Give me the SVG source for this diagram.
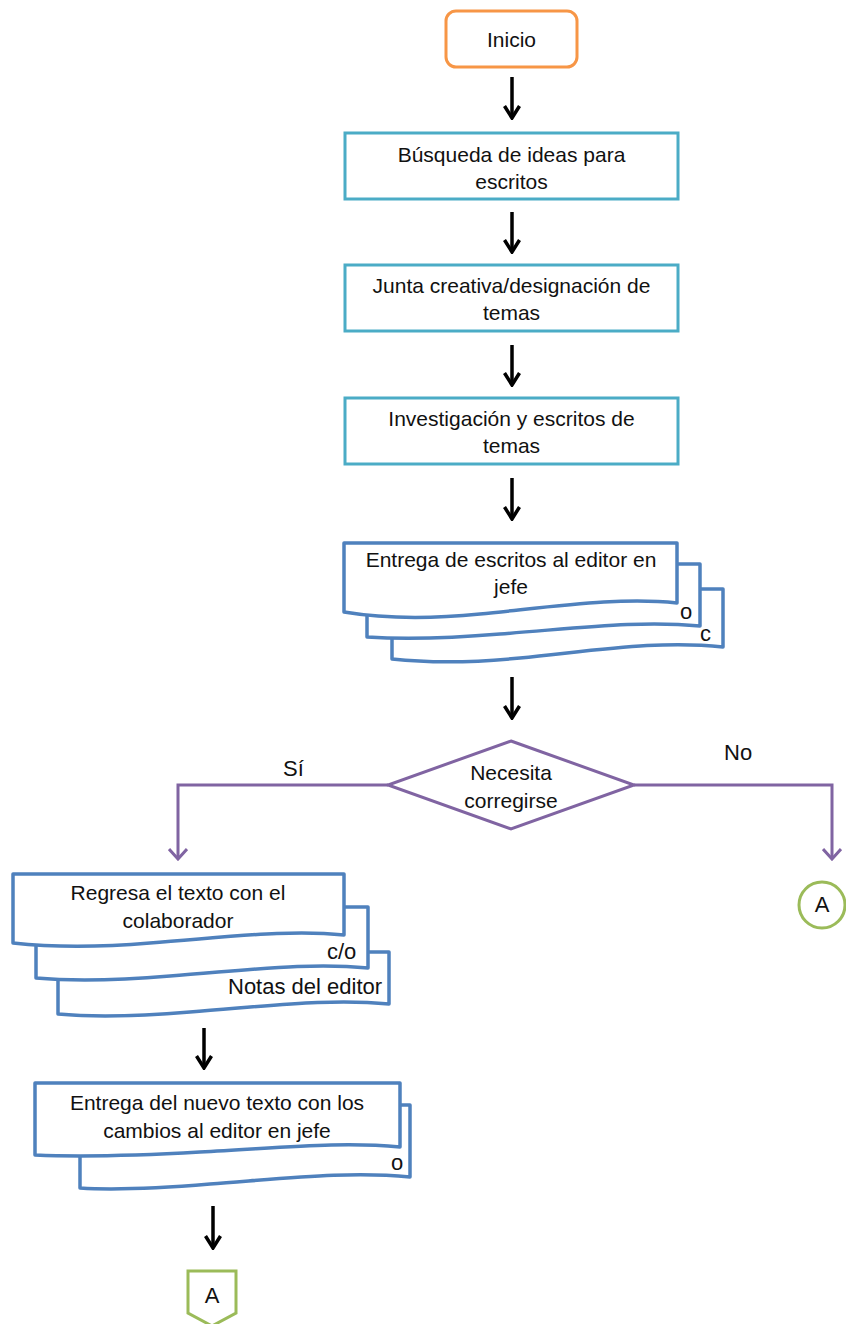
<svg xmlns="http://www.w3.org/2000/svg" width="846" height="1324" viewBox="0 0 846 1324">
<style>
.t{font-family:"Liberation Sans",Arial,sans-serif;font-size:21px;fill:#111;text-anchor:middle}
.h{font-family:"Liberation Sans",Arial,sans-serif;font-size:22px;fill:#111}
.proc{fill:#fff;stroke:#4BACC6;stroke-width:3}
.doc{fill:#fff;stroke:#4F81BD;stroke-width:3.5;stroke-linejoin:round}
.blk{stroke:#000;stroke-width:3.5;fill:none}
.pur{stroke:#8064A2;stroke-width:3;fill:none}
</style>
<defs>
<marker id="ab" markerWidth="16" markerHeight="18" viewBox="0 0 16 18" refX="14" refY="9" orient="auto" markerUnits="userSpaceOnUse">
<path d="M2,1.5 L14,9 L2,16.5" fill="none" stroke="#000" stroke-width="3.5"/>
</marker>
<marker id="ap" markerWidth="14" markerHeight="20" viewBox="0 0 14 20" refX="12" refY="10" orient="auto" markerUnits="userSpaceOnUse">
<path d="M2,1 L12,10 L2,19" fill="none" stroke="#8064A2" stroke-width="3"/>
</marker>
</defs>
<g id="connectors">
<line class="blk" x1="512" y1="77" x2="512" y2="118" marker-end="url(#ab)"/>
<line class="blk" x1="512" y1="212" x2="512" y2="252" marker-end="url(#ab)"/>
<line class="blk" x1="512" y1="345" x2="512" y2="385" marker-end="url(#ab)"/>
<line class="blk" x1="512" y1="478" x2="512" y2="519" marker-end="url(#ab)"/>
<line class="blk" x1="512" y1="677" x2="512" y2="718" marker-end="url(#ab)"/>
<polyline class="pur" points="388,785 178,785 178,859" marker-end="url(#ap)"/>
<polyline class="pur" points="634,785 832,785 832,859" marker-end="url(#ap)"/>
<line class="blk" x1="204" y1="1028" x2="204" y2="1068" marker-end="url(#ab)"/>
<line class="blk" x1="213" y1="1206" x2="213" y2="1248" marker-end="url(#ab)"/>
</g>
<g id="inicio">
<rect x="446" y="11" width="131" height="56" rx="10" fill="#fff" stroke="#F79646" stroke-width="3"/>
<text class="t" x="511.5" y="47">Inicio</text>
</g>
<g id="busqueda">
<rect class="proc" x="345" y="133" width="333" height="66"/>
<text class="t" x="511.5" y="162">Búsqueda de ideas para</text>
<text class="t" x="511.5" y="189">escritos</text>
</g>
<g id="junta">
<rect class="proc" x="345" y="265" width="333" height="66"/>
<text class="t" x="511.5" y="293">Junta creativa/designación de</text>
<text class="t" x="511.5" y="320">temas</text>
</g>
<g id="investigacion">
<rect class="proc" x="345" y="398" width="333" height="66"/>
<text class="t" x="511.5" y="426">Investigación y escritos de</text>
<text class="t" x="511.5" y="453">temas</text>
</g>
<g id="entrega1">
<path class="doc" d="M392,589 L723,589 L723,647 C660,640 600,650 520,658 C460,664 420,662 392,659 Z"/>
<path class="doc" d="M367,564 L700,564 L700,626 C640,620 580,628 500,634 C440,639 400,639 367,637 Z"/>
<path class="doc" d="M344,543 L677,543 L677,603 C620,597 560,606 480,614 C420,620 380,618 344,612 Z"/>
<text class="t" x="511" y="567">Entrega de escritos al editor en</text>
<text class="t" x="511" y="594">jefe</text>
<text class="h" x="680" y="619" font-size="20">o</text>
<text class="h" x="700" y="641" font-size="20">c</text>
</g>
<g id="decision">
<polygon points="511,741 634,785 511,829 388,785" fill="#fff" stroke="#8064A2" stroke-width="3"/>
<text class="t" x="511" y="780">Necesita</text>
<text class="t" x="511" y="808">corregirse</text>
</g>
<text class="h" x="283" y="776">Sí</text>
<text class="h" x="724" y="760">No</text>
<g id="conector-a">
<circle cx="822" cy="905" r="23" fill="#fff" stroke="#9BBB59" stroke-width="3"/>
<text class="h" x="822" y="912" font-size="19" text-anchor="middle">A</text>
</g>
<g id="regresa">
<path class="doc" d="M58,952 L389,952 L389,1004 C330,998 270,1006 190,1012 C130,1017 90,1017 58,1014 Z"/>
<path class="doc" d="M36,907 L368,907 L368,968 C310,962 250,970 170,976 C110,981 70,981 36,978 Z"/>
<path class="doc" d="M13,874 L344,874 L344,935 C290,929 230,937 150,943 C90,948 50,947 13,943 Z"/>
<text class="t" x="178" y="900">Regresa el texto con el</text>
<text class="t" x="178" y="928">colaborador</text>
<text class="h" x="327" y="959" font-size="21">c/o</text>
<text class="h" x="228" y="994" font-size="23">Notas del editor</text>
</g>
<g id="entrega2">
<path class="doc" d="M80,1105 L410,1105 L410,1177 C350,1171 290,1178 210,1184 C150,1189 110,1190 80,1188 Z"/>
<path class="doc" d="M35,1083 L400,1083 L400,1147 C340,1141 280,1148 200,1152 C130,1156 80,1157 35,1155 Z"/>
<text class="t" x="217" y="1110">Entrega del nuevo texto con los</text>
<text class="t" x="217" y="1138">cambios al editor en jefe</text>
<text class="h" x="391" y="1170" font-size="20">o</text>
</g>
<g id="pagina-a">
<path d="M188,1271 L236,1271 L236,1313 L212,1326 L188,1313 Z" fill="#fff" stroke="#9BBB59" stroke-width="3"/>
<text class="h" x="212" y="1303" font-size="19" text-anchor="middle">A</text>
</g>
</svg>
